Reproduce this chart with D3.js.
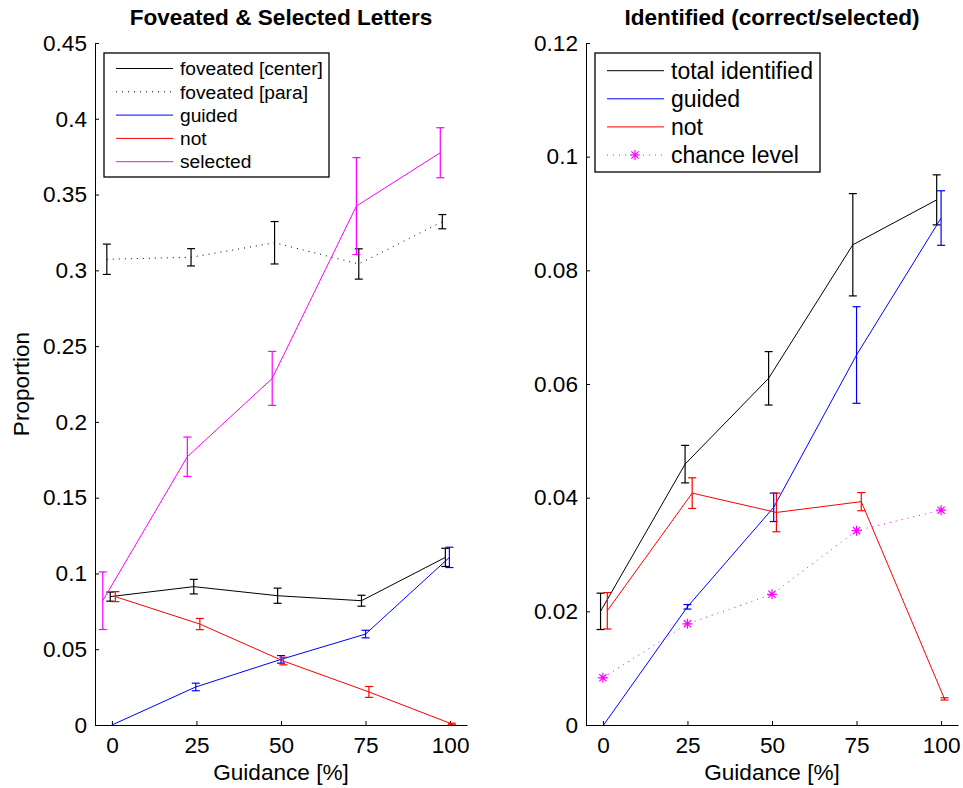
<!DOCTYPE html>
<html>
<head>
<meta charset="utf-8">
<script src="https://cdn.jsdelivr.net/npm/d3@7"></script>
<style>
  html, body { margin: 0; padding: 0; background: #fff; }
  svg { display: block; font-family: "Liberation Sans", Arial, Helvetica, sans-serif; }
</style>
</head>
<body>
<svg id="chart" width="963" height="788"></svg>
<script>
// ---------- data ----------
const xTicks = [0, 25, 50, 75, 100];
const leftYTicks = [0, 0.05, 0.1, 0.15, 0.2, 0.25, 0.3, 0.35, 0.4, 0.45];
const rightYTicks = [0, 0.02, 0.04, 0.06, 0.08, 0.1, 0.12];

// Left panel: Foveated & Selected Letters
const centerX   = [-0.5, 24.2, 49, 73.8, 98.6];
const centerY   = [0.0847, 0.0913, 0.0853, 0.0820, 0.1106];
const centerErr = [0.0030, 0.0048, 0.0050, 0.0036, 0.0060];

const paraX   = [-1.5, 23.4, 48.1, 73.0, 97.7];
const paraY   = [0.3073, 0.3086, 0.3182, 0.3042, 0.3321];
const paraErr = [0.0100, 0.0057, 0.0140, 0.0100, 0.0047];

const guidedX   = [0, 24.8, 50, 75, 99.8];
const guidedY   = [0, 0.0251, 0.0433, 0.0600, 0.1106];
const guidedErr = [0, 0.0025, 0.0025, 0.0025, 0.0067];

const notX   = [1, 26, 50.7, 76, 100.5];
const notY   = [0.0847, 0.0666, 0.0422, 0.0218, 0.0007];
const notErr = [0.0033, 0.0037, 0.0025, 0.0036, 0.0005];

const selX   = [-2.7, 22.3, 47.4, 72.3, 97.1];
const selY   = [0.0820, 0.1770, 0.2287, 0.3424, 0.3776];
const selErr = [0.0190, 0.0130, 0.0178, 0.0320, 0.0165];

// Right panel: Identified (correct/selected)
const totalX   = [-0.7, 24.3, 49, 73.9, 98.7];
const totalY   = [0.0200, 0.0459, 0.0610, 0.0845, 0.0924];
const totalErr = [0.0032, 0.0033, 0.0047, 0.0090, 0.0044];

const rGuidedX   = [0.2, 25, 50.5, 75, 100];
const rGuidedY   = [0, 0.0208, 0.0383, 0.0651, 0.0892];
const rGuidedErr = [0, 0.0004, 0.0025, 0.0085, 0.0048];

const rNotX   = [1.3, 26.4, 51.3, 76.4, 101];
const rNotY   = [0.0201, 0.0408, 0.0374, 0.0393, 0.0046];
const rNotErr = [0.0032, 0.0027, 0.0034, 0.0016, 0.0002];

const chanceX = [0, 25, 50, 75, 100];
const chanceY = [0.0083, 0.0178, 0.0230, 0.0342, 0.0378];

// ---------- helpers ----------
const svg = d3.select("#chart");
const FS = 22.6;

function zip(xs, ys, es) { return xs.map((x, i) => ({ x, y: ys[i], e: es ? es[i] : 0 })); }

function drawPanel(opts) {
  const g = svg.append("g");
  const x = d3.scaleLinear().domain([-5, 105]).range([opts.left, opts.left + 372]);
  const y = d3.scaleLinear().domain(opts.yDomain).range([725, 43]);

  // axes
  const ax = g.append("g").attr("transform", "translate(0,725)")
    .call(d3.axisBottom(x).tickValues(xTicks).tickSize(-4).tickSizeOuter(0).tickPadding(12).tickFormat(d3.format("d")));
  const ay = g.append("g").attr("transform", `translate(${opts.left},0)`)
    .call(d3.axisLeft(y).tickValues(opts.yTicks).tickSize(-4).tickSizeOuter(0).tickPadding(8).tickFormat(d => d === 0 ? "0" : String(+d.toFixed(3))));
  [ax, ay].forEach(a => {
    a.selectAll("text").attr("font-size", FS).attr("fill", "#000").attr("font-family", null);
    a.selectAll("line").attr("stroke", "#000");
    a.select(".domain").attr("stroke", "#000");
    a.attr("font-family", null);
  });

  // title
  g.append("text").attr("x", opts.left + 186).attr("y", 25).attr("text-anchor", "middle")
    .attr("font-size", FS).attr("font-weight", "bold").text(opts.title);
  // x label
  g.append("text").attr("x", opts.left + 186).attr("y", 780).attr("text-anchor", "middle")
    .attr("font-size", FS).text("Guidance [%]");
  if (opts.yLabel) {
    g.append("text").attr("transform", `translate(29,384) rotate(-90)`).attr("text-anchor", "middle")
      .attr("font-size", FS).text(opts.yLabel);
  }

  const line = d3.line().x(d => x(d.x)).y(d => y(d.y));
  opts.series.forEach(s => {
    const data = zip(s.xs, s.ys, s.es);
    g.append("path").datum(data).attr("d", line).attr("fill", "none")
      .attr("stroke", s.color).attr("stroke-width", 1)
      .attr("stroke-dasharray", s.dotted ? "1,5" : null);
    if (s.es) {
      const eb = g.append("g").attr("stroke", s.color).attr("stroke-width", 1.2);
      data.forEach(d => {
        if (d.e <= 0) return;
        const cx = x(d.x), y1 = y(d.y + d.e), y2 = y(d.y - d.e);
        eb.append("line").attr("x1", cx).attr("x2", cx).attr("y1", y1).attr("y2", y2);
        eb.append("line").attr("x1", cx - 4).attr("x2", cx + 4).attr("y1", y1).attr("y2", y1);
        eb.append("line").attr("x1", cx - 4).attr("x2", cx + 4).attr("y1", y2).attr("y2", y2);
      });
    }
    if (s.asterisk) {
      data.forEach(d => {
        g.append("path").attr("transform", `translate(${x(d.x)},${y(d.y)})`)
          .attr("d", "M-5,0H5M0,-5V5M-3.6,-3.6L3.6,3.6M-3.6,3.6L3.6,-3.6")
          .attr("stroke", s.color).attr("stroke-width", 1.2).attr("fill", "none");
      });
    }
  });

  // legend
  const L = opts.legend;
  const lg = g.append("g");
  lg.append("rect").attr("x", L.x).attr("y", L.y).attr("width", L.w).attr("height", L.h)
    .attr("fill", "#fff").attr("stroke", "#000").attr("stroke-width", 1.3);
  opts.series.forEach((s, i) => {
    const cy = L.firstRow + i * L.rowH;
    lg.append("line").attr("x1", L.x + 12).attr("x2", L.x + 69).attr("y1", cy).attr("y2", cy)
      .attr("stroke", s.color).attr("stroke-width", 1)
      .attr("stroke-dasharray", s.dotted ? "1,5" : null);
    if (s.asterisk) {
      lg.append("path").attr("transform", `translate(${L.x + 40},${cy})`)
        .attr("d", "M-5,0H5M0,-5V5M-3.6,-3.6L3.6,3.6M-3.6,3.6L3.6,-3.6")
        .attr("stroke", s.color).attr("stroke-width", 1.2);
    }
    lg.append("text").attr("x", L.x + 76).attr("y", cy).attr("dy", "0.35em")
      .attr("font-size", L.fs).text(s.name);
  });
}

drawPanel({
  left: 95,
  yDomain: [0, 0.45],
  yTicks: leftYTicks,
  title: "Foveated & Selected Letters",
  yLabel: "Proportion",
  series: [
    { name: "foveated [center]", xs: centerX, ys: centerY, es: centerErr, color: "#000" },
    { name: "foveated [para]", xs: paraX, ys: paraY, es: paraErr, color: "#000", dotted: true },
    { name: "guided", xs: guidedX, ys: guidedY, es: guidedErr, color: "#0000ff" },
    { name: "not", xs: notX, ys: notY, es: notErr, color: "#ff0000" },
    { name: "selected", xs: selX, ys: selY, es: selErr, color: "#ff00ff" }
  ],
  legend: { x: 104, y: 53, w: 225, h: 124, firstRow: 68.5, rowH: 23.3, fs: 19.2 }
});

drawPanel({
  left: 586,
  yDomain: [0, 0.12],
  yTicks: rightYTicks,
  title: "Identified (correct/selected)",
  yLabel: null,
  series: [
    { name: "total identified", xs: totalX, ys: totalY, es: totalErr, color: "#000" },
    { name: "guided", xs: rGuidedX, ys: rGuidedY, es: rGuidedErr, color: "#0000ff" },
    { name: "not", xs: rNotX, ys: rNotY, es: rNotErr, color: "#ff0000" },
    { name: "chance level", xs: chanceX, ys: chanceY, es: null, color: "#ff00ff", dotted: true, asterisk: true }
  ],
  legend: { x: 595, y: 53, w: 225, h: 119, firstRow: 70.7, rowH: 28.1, fs: 23 }
});
</script>
</body>
</html>
